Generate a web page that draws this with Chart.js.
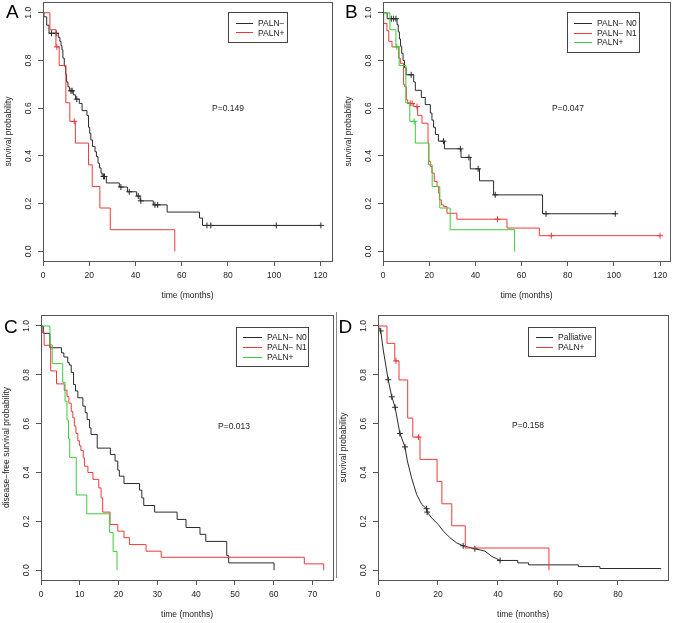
<!DOCTYPE html>
<html>
<head>
<meta charset="utf-8">
<script src="https://cdn.jsdelivr.net/npm/chart.js@4.4.1/dist/chart.umd.min.js"></script>
<style>
  body { margin: 0; background: #fff; }
  #page { position: relative; width: 675px; height: 623px; overflow: hidden; background: #fff;
          font-family: 'Liberation Sans', Arial, Helvetica, sans-serif; color: #222; }
  #page canvas { position: absolute; }
  .txt { position: absolute; font-size: 8.5px; line-height: 10px; white-space: nowrap; z-index: 5; }
  .letter { position: absolute; font-size: 19px; line-height: 19px; color: #000; z-index: 5; }
  .legend { position: absolute; border: 1px solid #444; background: #fff; box-sizing: border-box; z-index: 4; }
  .legline { position: absolute; height: 1px; z-index: 5; }
  .divider { position: absolute; left: 336px; top: 312px; width: 1px; height: 266px; background: #888; }
</style>
</head>
<body>
<div id="page"><div class="divider"></div></div>
<script>
// ---- data: times in months, survival probabilities ----
// PALN+ group (same curve in panels A, B and D)
const palnPosT = [0, 3.0, 5.6, 7.0, 9.9, 11.6, 14.0, 19.7, 21.3, 24.6, 29.1, 57.0];
const palnPosS = [1, 0.929, 0.857, 0.779, 0.623, 0.545, 0.454, 0.363, 0.272, 0.182, 0.091, 0];
const palnPosCens = [6.0, 13.5];

// A: PALN-
const aNegT = [0, 0.4, 1.6, 2.6, 6.6, 7.3, 7.8, 8.2, 8.6, 9.2, 9.8, 10.2, 10.8, 11.4, 13.1, 14.1, 15.7, 16.9, 19.0, 19.7,
  20.2, 20.7, 21.4, 22.5, 23.1, 23.8, 24.4, 25.1, 25.6, 27.4, 33.0, 36.5, 40.5, 42.0, 47.7, 53.7, 67.7, 69.0, 120.2];
const aNegS = [1, 0.983, 0.948, 0.914, 0.897, 0.880, 0.862, 0.845, 0.810, 0.776, 0.742, 0.710, 0.690, 0.673, 0.656, 0.638, 0.620, 0.590, 0.570, 0.520,
  0.495, 0.467, 0.440, 0.418, 0.397, 0.370, 0.350, 0.328, 0.314, 0.287, 0.270, 0.250, 0.232, 0.212, 0.195, 0.165, 0.140, 0.109, 0.109];
const aNegCens = [3.7, 5.7, 12.1, 12.6, 14.6, 26.2, 26.6, 33.7, 37.3, 41.2, 42.3, 48.4, 49.6, 70.9, 72.6, 100.9, 120.2];

// B: PALN- N0 and PALN- N1
const bN0T = [0, 1.8, 6.1, 6.6, 7.1, 7.6, 8.1, 8.7, 9.3, 10.0, 13.3, 14.0, 16.6, 18.3, 20.5, 21.2, 21.9, 22.7, 24.0, 26.6,
  33.8, 37.8, 41.8, 47.9, 69.1, 100.6];
const bN0S = [1, 0.975, 0.950, 0.920, 0.890, 0.860, 0.830, 0.800, 0.770, 0.740, 0.710, 0.675, 0.645, 0.615, 0.580, 0.550, 0.520, 0.490, 0.462, 0.430,
  0.394, 0.346, 0.296, 0.237, 0.158, 0.158];
const bN0Cens = [3.6, 4.6, 5.6, 12.2, 26.2, 33.5, 37.2, 41.2, 48.6, 70.6, 100.6];

const bN1T = [0, 0.3, 1.7, 2.5, 3.9, 6.8, 7.5, 8.9, 9.4, 10.1, 10.7, 13.3, 15.0, 16.9, 19.5, 19.9, 20.5, 21.2, 22.2, 23.4,
  24.1, 24.5, 25.3, 26.3, 27.7, 32.0, 53.7, 67.7, 120.0];
const bN1S = [1, 0.955, 0.925, 0.880, 0.857, 0.810, 0.788, 0.700, 0.690, 0.635, 0.620, 0.607, 0.570, 0.537, 0.453, 0.377, 0.356, 0.328, 0.293, 0.272,
  0.244, 0.216, 0.195, 0.188, 0.160, 0.135, 0.098, 0.066, 0.066];
const bN1Cens = [11.8, 12.6, 14.7, 49.6, 72.9, 120.0];

// C: disease-free survival
const cN0T = [0, 0.6, 2.3, 5.3, 5.9, 6.9, 7.3, 7.8, 8.4, 8.9, 9.5, 10.8, 11.4, 11.9, 12.5, 12.9, 14.5, 17.9, 19.1, 19.8,
  20.2, 21.4, 25.4, 26.0, 26.5, 29.3, 35.1, 37.4, 41.0, 42.5, 47.9, 48.4, 60.1];
const cN0S = [1, 0.970, 0.911, 0.890, 0.873, 0.850, 0.840, 0.810, 0.760, 0.734, 0.706, 0.672, 0.645, 0.617, 0.583, 0.556, 0.500, 0.474, 0.447, 0.410,
  0.385, 0.355, 0.328, 0.296, 0.265, 0.238, 0.208, 0.175, 0.147, 0.118, 0.060, 0.030, 0];

const cN1T = [0, 0.3, 0.8, 2.5, 4.0, 6.0, 6.7, 7.2, 7.8, 8.2, 8.6, 9.0, 9.5, 9.9, 10.3, 10.9, 11.2, 12.1, 13.4, 14.9,
  15.5, 15.9, 17.8, 19.8, 21.4, 22.8, 27.1, 31.0, 67.9, 72.9];
const cN1S = [1, 0.974, 0.921, 0.816, 0.763, 0.737, 0.711, 0.684, 0.650, 0.624, 0.590, 0.560, 0.530, 0.510, 0.490, 0.460, 0.426, 0.400, 0.372, 0.337,
  0.296, 0.238, 0.187, 0.160, 0.133, 0.105, 0.078, 0.053, 0.026, 0];

const cPosT = [0, 2.3, 2.9, 5.6, 6.2, 6.7, 7.1, 7.4, 9.1, 11.8, 17.7, 18.6, 19.6];
const cPosS = [1, 0.923, 0.846, 0.769, 0.692, 0.615, 0.538, 0.462, 0.308, 0.231, 0.154, 0.077, 0];

// D: palliative group (dense curve up to ~41 months, then sparse steps)
const dPalT = [0, 0.9, 1.8, 3.4, 4.6, 5.7, 7.3, 9.0, 9.8, 11.2, 12.9, 14.6, 16.2, 16.4, 17.9, 20.1, 21.8, 24.0, 26.2, 28.4,
  32.3, 35.7, 37.9, 40.7, 46.6, 50.2, 66.8, 74.0, 94.3];
const dPalS = [1, 0.980, 0.898, 0.780, 0.710, 0.667, 0.560, 0.505, 0.447, 0.378, 0.310, 0.269, 0.252, 0.238, 0.214, 0.187, 0.160, 0.133, 0.112, 0.100,
  0.088, 0.078, 0.057, 0.040, 0.030, 0.022, 0.015, 0.007, 0.004];
const dPalCensT = [0.9, 3.4, 4.6, 5.7, 7.3, 9.0, 16.2, 16.4, 28.4, 32.3, 40.7];
const dPalCensS = [0.980, 0.780, 0.710, 0.667, 0.560, 0.505, 0.252, 0.238, 0.100, 0.088, 0.040];

// ticks
const xTicksAB = [0, 20, 40, 60, 80, 100, 120];
const xTicksC = [0, 10, 20, 30, 40, 50, 60, 70];
const xTicksD = [0, 20, 40, 60, 80];
const yTicks = [0, 0.2, 0.4, 0.6, 0.8, 1.0];

const BLACK = '#2a2a2a', RED = '#ec3a3a', GREEN = '#3ccc3c';
const AXIS_W = 45, AXIS_H = 48, PAD_T = 12, PAD_R = 10;

Chart.defaults.font.family = "'Liberation Sans', Arial, Helvetica, sans-serif";
Chart.defaults.font.size = 8.5;
Chart.defaults.color = '#222';

const page = document.getElementById('page');

function pts(T, S) {
  return T.map((t, i) => ({ x: t, y: S[i] }));
}

// value of a step curve at time t
function stepAt(T, S, t) {
  let v = S[0];
  for (let i = 0; i < T.length; i++) if (T[i] <= t) v = S[i];
  return v;
}

function lineDs(data, color, stepped) {
  return { data: data, borderColor: color, borderWidth: 1, pointRadius: 0, stepped: stepped, fill: false, tension: 0 };
}

function censDs(data, color) {
  return { data: data, showLine: false, pointStyle: 'cross', pointRadius: 3, pointHoverRadius: 0,
           borderColor: color, pointBorderColor: color, pointBorderWidth: 1, borderWidth: 1 };
}

function seriesSets(s) {
  const out = [];
  const all = pts(s.T, s.S);
  if (s.smoothTo) {
    const k = s.T.indexOf(s.smoothTo);
    out.push(lineDs(all.slice(0, k + 1), s.color, false));
    out.push(lineDs(all.slice(k), s.color, 'before'));
  } else {
    out.push(lineDs(all, s.color, 'before'));
  }
  if (s.cens) out.push(censDs(s.cens.map(t => ({ x: t, y: stepAt(s.T, s.S, t) })), s.color));
  if (s.censT) out.push(censDs(pts(s.censT, s.censS), s.color));
  return out;
}

const boxPlugin = {
  id: 'rbox',
  afterDraw(chart) {
    const a = chart.chartArea, ctx = chart.ctx;
    ctx.save();
    ctx.strokeStyle = '#555';
    ctx.lineWidth = 1;
    ctx.strokeRect(a.left + 0.5, a.top + 0.5, a.right - a.left, a.bottom - a.top);
    ctx.restore();
  }
};

function makePanel(box, xMax, xTicks, yTitle, series) {
  const cl = box.L - AXIS_W, ct = box.T - PAD_T;
  const w = box.R - cl + PAD_R, h = box.B - ct + AXIS_H;
  const canvas = document.createElement('canvas');
  canvas.width = w; canvas.height = h;
  canvas.style.left = cl + 'px'; canvas.style.top = ct + 'px';
  canvas.style.width = w + 'px'; canvas.style.height = h + 'px';
  page.appendChild(canvas);

  // R draws groups in order, Chart.js puts dataset 0 on top -> reverse
  let datasets = [];
  series.forEach(s => { datasets = seriesSets(s).concat(datasets); });

  new Chart(canvas, {
    type: 'line',
    data: { datasets: datasets },
    options: {
      responsive: false,
      animation: false,
      events: [],
      devicePixelRatio: 1,
      layout: { padding: { left: 0, top: PAD_T, right: PAD_R, bottom: 0 } },
      plugins: { legend: { display: false }, tooltip: { enabled: false } },
      scales: {
        x: {
          type: 'linear', min: 0, max: xMax,
          afterBuildTicks: s => { s.ticks = xTicks.map(v => ({ value: v })); },
          afterFit: s => { s.height = AXIS_H; },
          grid: { drawOnChartArea: false, drawTicks: true, tickLength: 5, color: '#555' },
          border: { display: false },
          ticks: { padding: 5, autoSkip: false, maxRotation: 0, callback: v => String(v) },
          title: { display: true, text: 'time (months)', padding: { top: 0, bottom: 8.3 } }
        },
        y: {
          type: 'linear', min: -0.04, max: 1.045,
          afterBuildTicks: s => { s.ticks = yTicks.map(v => ({ value: v })); },
          afterFit: s => { s.width = AXIS_W; },
          grid: { drawOnChartArea: false, drawTicks: true, tickLength: 5, color: '#555' },
          border: { display: false },
          ticks: { padding: 3.3, autoSkip: false, minRotation: 90, maxRotation: 90, crossAlign: 'center',
                   callback: v => v.toFixed(1) },
          title: { display: true, text: yTitle, padding: { top: 5.3, bottom: 0 } }
        }
      }
    },
    plugins: [boxPlugin]
  });
}

function addText(cls, text, x, y) {
  const d = document.createElement('div');
  d.className = cls;
  d.textContent = text;
  d.style.left = x + 'px';
  d.style.top = y + 'px';
  page.appendChild(d);
}

// legend box like R's legend(): x,y,w,h of box, first row centre, row gap, line x-range, text x
function addLegend(lg, rows) {
  const b = document.createElement('div');
  b.className = 'legend';
  b.style.left = lg.x + 'px'; b.style.top = lg.y + 'px';
  b.style.width = lg.w + 'px'; b.style.height = lg.h + 'px';
  page.appendChild(b);
  rows.forEach((r, i) => {
    const cy = lg.y0 + i * lg.dy;
    const ln = document.createElement('div');
    ln.className = 'legline';
    ln.style.left = lg.lx0 + 'px'; ln.style.width = (lg.lx1 - lg.lx0) + 'px';
    ln.style.top = Math.round(cy) + 'px'; ln.style.background = r.color;
    page.appendChild(ln);
    addText('txt', r.label, lg.tx, cy - 4.9);
  });
}

// ---- panels ----
makePanel({ L: 43, T: 2, R: 332, B: 261 }, 125.0, xTicksAB, 'survival probability', [
  { T: aNegT, S: aNegS, cens: aNegCens, color: BLACK },
  { T: palnPosT, S: palnPosS, cens: palnPosCens, color: RED }
]);
makePanel({ L: 383, T: 2, R: 670, B: 261 }, 124.3, xTicksAB, 'survival probability', [
  { T: bN0T, S: bN0S, cens: bN0Cens, color: BLACK },
  { T: bN1T, S: bN1S, cens: bN1Cens, color: RED },
  { T: palnPosT, S: palnPosS, cens: palnPosCens, color: GREEN }
]);
makePanel({ L: 41, T: 315, R: 333, B: 580 }, 75.3, xTicksC, 'disease\u2212free survival probability', [
  { T: cN0T, S: cN0S, color: BLACK },
  { T: cN1T, S: cN1S, color: RED },
  { T: cPosT, S: cPosS, color: GREEN }
]);
makePanel({ L: 378, T: 315, R: 668, B: 580 }, 96.7, xTicksD, 'survival probability', [
  { T: dPalT, S: dPalS, smoothTo: 40.7, censT: dPalCensT, censS: dPalCensS, color: BLACK },
  { T: palnPosT, S: palnPosS, cens: palnPosCens, color: RED }
]);

// ---- legends, p-values, panel letters ----
addLegend({ x: 228, y: 12, w: 60, h: 31, y0: 22.7, dy: 9.7, lx0: 236, lx1: 253, tx: 258 }, [
  { label: 'PALN\u2212', color: BLACK }, { label: 'PALN+', color: RED }
]);
addLegend({ x: 567, y: 12, w: 73, h: 41, y0: 22.7, dy: 9.8, lx0: 574, lx1: 592, tx: 597 }, [
  { label: 'PALN\u2212 N0', color: BLACK }, { label: 'PALN\u2212 N1', color: RED }, { label: 'PALN+', color: GREEN }
]);
addLegend({ x: 236, y: 327, w: 73, h: 40, y0: 336.7, dy: 10, lx0: 243, lx1: 262, tx: 267 }, [
  { label: 'PALN\u2212 N0', color: BLACK }, { label: 'PALN\u2212 N1', color: RED }, { label: 'PALN+', color: GREEN }
]);
addLegend({ x: 528, y: 327, w: 68, h: 30, y0: 336.7, dy: 10.6, lx0: 536, lx1: 553, tx: 558 }, [
  { label: 'Palliative', color: BLACK }, { label: 'PALN+', color: RED }
]);

addText('txt', 'P=0.149', 212, 108.3 - 4.9);
addText('txt', 'P=0.047', 552, 108.3 - 4.9);
addText('txt', 'P=0.013', 218, 425.7 - 4.9);
addText('txt', 'P=0.158', 512, 425 - 4.9);

addText('letter', 'A', 6, 2.2);
addText('letter', 'B', 345, 2.2);
addText('letter', 'C', 4, 317.2);
addText('letter', 'D', 338.5, 317.2);
</script>
</body>
</html>
